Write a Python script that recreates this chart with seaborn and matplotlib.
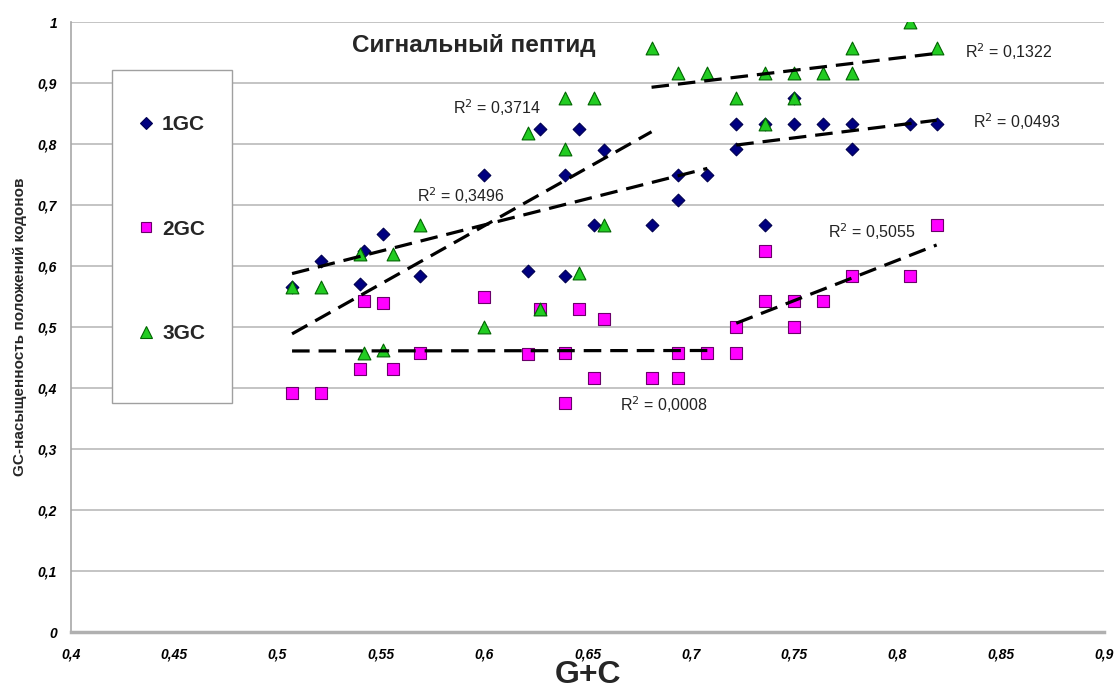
import numpy as np
import pandas as pd
import matplotlib
matplotlib.use("Agg")
import matplotlib.pyplot as plt
from matplotlib.lines import Line2D
from matplotlib.patches import Rectangle
import seaborn as sns

# ---------------- data ----------------
series_names = ["1GC", "2GC", "3GC"]

gc1_x = [0.507, 0.521, 0.540, 0.542, 0.551, 0.569, 0.600, 0.621, 0.627, 0.639, 0.639, 0.646,
         0.653, 0.658, 0.681, 0.694, 0.694, 0.708,
         0.722, 0.722, 0.736, 0.736, 0.750, 0.750, 0.764, 0.778, 0.778, 0.806, 0.819]
gc1_y = [0.565, 0.609, 0.571, 0.625, 0.652, 0.583, 0.750, 0.591, 0.825, 0.750, 0.583, 0.825,
         0.667, 0.790, 0.667, 0.750, 0.708, 0.750,
         0.833, 0.792, 0.667, 0.833, 0.833, 0.875, 0.833, 0.833, 0.792, 0.833, 0.833]

gc2_x = [0.507, 0.521, 0.540, 0.542, 0.551, 0.556, 0.569, 0.600, 0.621, 0.627, 0.639, 0.639,
         0.646, 0.653, 0.658, 0.681, 0.694, 0.694, 0.708,
         0.722, 0.722, 0.736, 0.736, 0.750, 0.750, 0.764, 0.778, 0.806, 0.819]
gc2_y = [0.392, 0.392, 0.431, 0.542, 0.539, 0.431, 0.458, 0.550, 0.455, 0.529, 0.458, 0.375,
         0.529, 0.417, 0.513, 0.417, 0.458, 0.417, 0.458,
         0.500, 0.458, 0.625, 0.542, 0.542, 0.500, 0.542, 0.583, 0.583, 0.667]

gc3_x = [0.507, 0.521, 0.540, 0.542, 0.551, 0.556, 0.569, 0.600, 0.621, 0.627, 0.639, 0.639,
         0.646, 0.653, 0.658,
         0.681, 0.694, 0.708, 0.722, 0.736, 0.736, 0.750, 0.750, 0.764, 0.778, 0.778, 0.806, 0.819]
gc3_y = [0.565, 0.565, 0.619, 0.458, 0.462, 0.620, 0.667, 0.500, 0.818, 0.529, 0.792, 0.875,
         0.588, 0.875, 0.667,
         0.958, 0.917, 0.917, 0.875, 0.917, 0.833, 0.917, 0.875, 0.917, 0.958, 0.917, 1.000, 0.958]

# each series has two trend-line groups: first group x <= group1_end, second x >= group2_start
group1_end = [0.710, 0.710, 0.685]
group2_start = [0.715, 0.715, 0.675]

r2_labels = ["0,3714", "0,3496", "0,0008", "0,5055", "0,1322", "0,0493"]

x_ticks = [0.4, 0.45, 0.5, 0.55, 0.6, 0.65, 0.7, 0.75, 0.8, 0.85, 0.9]
x_tick_labels = ["0,4", "0,45", "0,5", "0,55", "0,6", "0,65", "0,7", "0,75", "0,8", "0,85", "0,9"]
y_ticks = [0, 0.1, 0.2, 0.3, 0.4, 0.5, 0.6, 0.7, 0.8, 0.9, 1.0]
y_tick_labels = ["0", "0,1", "0,2", "0,3", "0,4", "0,5", "0,6", "0,7", "0,8", "0,9", "1"]

title_text = "Сигнальный пептид"
x_label = "G+C"
y_label = "GC-насыщенность положений кодонов"

# ---------------- styling ----------------
sns.set_theme(style="white")
plt.rcParams["font.family"] = ["Liberation Sans", "DejaVu Sans"]

styles = {
    "1GC": dict(marker="D", color="#000080", edge="#000050", s=42),
    "2GC": dict(marker="s", color="#FF00FF", edge="#6a006a", s=78),
    "3GC": dict(marker="^", color="#22cc22", edge="#006400", s=85),
}

xs_all = [gc1_x, gc2_x, gc3_x]
ys_all = [gc1_y, gc2_y, gc3_y]

fig = plt.figure(figsize=(11.17, 6.90), dpi=100)
ax = fig.add_axes([71 / 1117, 1 - 632 / 690, (1104 - 71) / 1117, (632 - 22) / 690])

for name, xs, ys in zip(series_names, xs_all, ys_all):
    st = styles[name]
    df = pd.DataFrame({"x": xs, "y": ys})
    sns.scatterplot(data=df, x="x", y="y", marker=st["marker"], color=st["color"],
                    edgecolor=st["edge"], linewidth=0.8, s=st["s"], ax=ax, zorder=3,
                    legend=False)

for name, xs, ys, g1, g2 in zip(series_names, xs_all, ys_all, group1_end, group2_start):
    xs = np.asarray(xs)
    ys = np.asarray(ys)
    for mask in (xs <= g1, xs >= g2):
        sns.regplot(x=xs[mask], y=ys[mask], scatter=False, ci=None, truncate=True,
                    color="black", ax=ax,
                    line_kws=dict(lw=2.3, dashes=(5.5, 2.8), zorder=4))

ax.set_xlim(0.4, 0.9)
ax.set_ylim(0, 1)
ax.set_xticks(x_ticks)
ax.set_xticklabels(x_tick_labels, fontsize=10, fontweight="bold", fontstyle="italic")
ax.set_yticks(y_ticks)
ax.set_yticklabels(y_tick_labels, fontsize=10, fontweight="bold", fontstyle="italic")
ax.tick_params(axis="both", which="both", direction="out", color="#a0a0a0", length=6,
               width=1, labelcolor="black")
ax.tick_params(axis="x", pad=5)
ax.tick_params(axis="y", pad=4)

ax.grid(axis="y", color="#c4c4c4", lw=1.4, zorder=0.5)
ax.grid(axis="x", visible=False)
ax.set_axisbelow(True)
for side in ("top", "right"):
    ax.spines[side].set_visible(False)
ax.spines["left"].set_color("#a8a8a8")
ax.spines["left"].set_linewidth(1.2)
ax.spines["bottom"].set_color("#b0b0b0")
ax.spines["bottom"].set_linewidth(2.5)

ax.set_xlabel(x_label, fontsize=23, fontweight="bold", labelpad=-1)
ax.set_ylabel(y_label, fontsize=11, fontweight="bold", labelpad=8)

ax.text(0.595, 0.962, title_text, fontsize=17.5, fontweight="bold", ha="center", va="center")

# R^2 annotations
r2_pos = [(0.5848, 0.859), (0.5674, 0.716), (0.6656, 0.372),
          (0.7662, 0.656), (0.8325, 0.951), (0.8364, 0.836)]
for lab, (tx, ty) in zip(r2_labels, r2_pos):
    ax.text(tx, ty, r"R$^2$ = " + lab, fontsize=11.5, ha="left", va="center", color="#222222")

# legend box
ax.add_patch(Rectangle((0.040, 0.375), 0.116, 0.546, transform=ax.transAxes,
                       facecolor="white", edgecolor="#a0a0a0", lw=1.0, zorder=2.5))
handles = [Line2D([], [], ls="", marker=styles[n]["marker"], color=styles[n]["color"],
                  markeredgecolor=styles[n]["edge"], markeredgewidth=0.8,
                  markersize={"1GC": 6.5, "2GC": 7.5, "3GC": 8}[n]) for n in series_names]
leg = ax.legend(handles, series_names, loc="upper left", bbox_to_anchor=(0.064, 0.847),
                frameon=False, borderpad=0, borderaxespad=0, handlelength=0.9,
                handletextpad=0.3, labelspacing=4.1,
                prop=dict(family="Liberation Sans", weight="bold", size=15))
leg.set_zorder(5)

fig.savefig("out.png", dpi=100)
